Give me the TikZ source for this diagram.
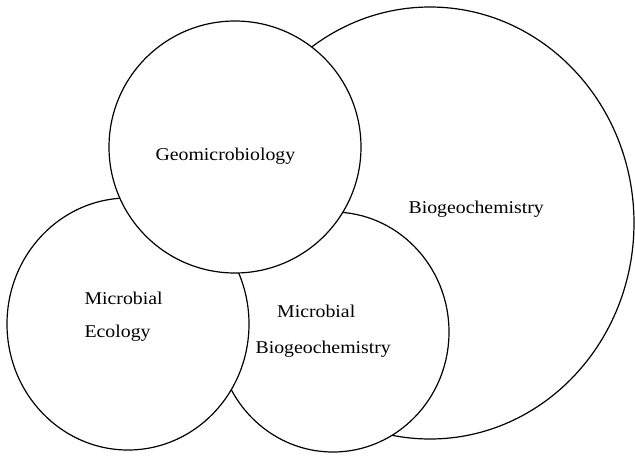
\documentclass[tikz,border=0pt]{standalone}
\usepackage{fontspec}
\setmainfont{Liberation Serif}[FakeStretch=1.1]

\begin{document}
\begin{tikzpicture}[x=1pt, y=-1pt, line width=1.2pt,
  disc/.style={draw=black, fill=white},
  lbl/.style={inner sep=0pt, font=\fontsize{18}{33}\selectfont}]
  \useasboundingbox (0,0) rectangle (635,456);

  % circles, back to front
  \filldraw[disc] (430,223) ellipse [x radius=204pt, y radius=216pt];
  \filldraw[disc] (333,332) ellipse [x radius=116pt, y radius=120pt];
  \filldraw[disc] (128,324) ellipse [x radius=121pt, y radius=126pt];
  \filldraw[disc] (235,147) ellipse [x radius=126pt, y radius=126pt];

  \node[lbl, anchor=base west] (geo)  at (155,160) {Geomicrobiology};
  \node[lbl, anchor=base west] (bgc)  at (408,213) {Biogeochemistry};
  \node[lbl, anchor=base west, align=left] (mecol) at (84,337)
    {Microbial\\ Ecology};
  \node[lbl, anchor=base west, align=center] (mbgc) at (255,353)
    {Microbial\hspace*{14pt}\\[3pt] Biogeochemistry};
\end{tikzpicture}
\end{document}
